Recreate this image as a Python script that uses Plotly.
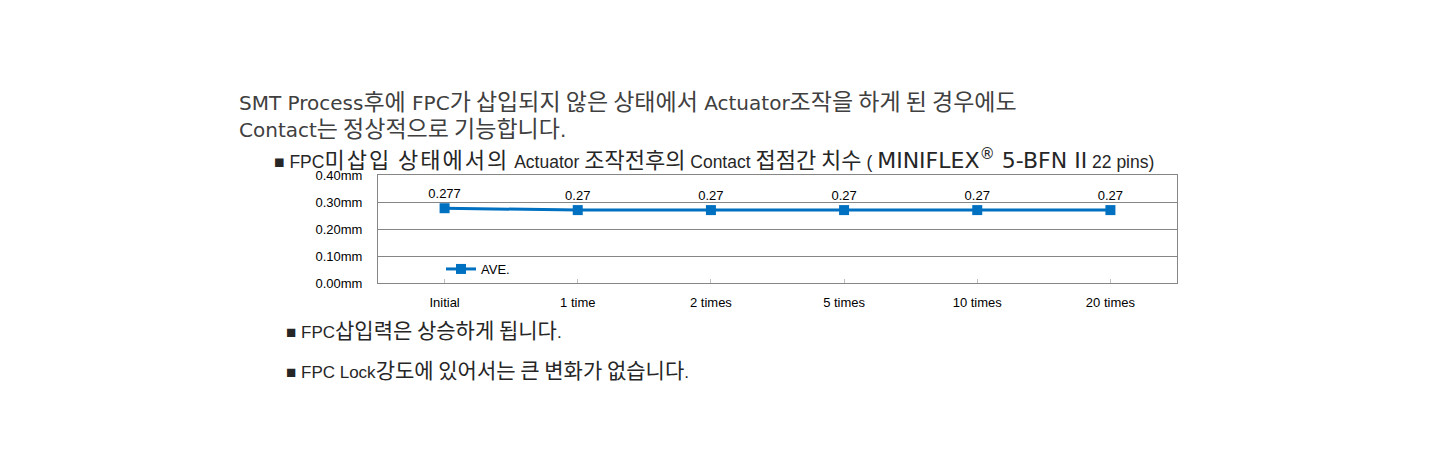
import re
import plotly.graph_objects as go

# chart data
categories = ["Initial", "1 time", "2 times", "5 times", "10 times", "20 times"]
ave_values = [0.277, 0.27, 0.27, 0.27, 0.27, 0.27]
y_ticks = [0.0, 0.1, 0.2, 0.3, 0.4]
y_tick_labels = [f"{v:.2f}mm" for v in y_ticks]

title_lines = [
    "SMT Process후에 FPC가 삽입되지 않은 상태에서 Actuator조작을 하게 된 경우에도",
    "Contact는 정상적으로 기능합니다.",
]
notes = [
    "■ FPC삽입력은 상승하게 됩니다.",
    "■ FPC Lock강도에 있어서는 큰 변화가 없습니다.",
]

# page places the figure at (8, 8); target pixel box of the plot area on screen
OFF = 8
W, H = 1440, 470
L, R, T, B = 378, 1177, 175, 283
KR = "Noto Sans CJK KR"
SANS = "Liberation Sans, Arial, " + KR
WIDE = "DejaVu Sans, Verdana, " + KR


def px(x):
    return (x - L) / (R - L)


def py(y):
    return (B - y) / (B - T)


def kr(s, size, spacing=0):
    # hangul runs get a larger Korean face, the rest keeps the annotation font
    extra = f";letter-spacing:{spacing}px" if spacing else ""
    return re.sub(r"([가-힣][가-힣 ]*[가-힣]|[가-힣])",
                  lambda m: f"<span style='font-family:{KR};font-size:{size}px{extra}'>{m.group(1)}</span>", s)


fig = go.Figure()

fig.add_trace(go.Scatter(
    x=categories, y=ave_values, name="AVE.",
    mode="lines+markers+text",
    line=dict(color="#0070C0", width=3),
    marker=dict(symbol="square", size=10, color="#0070C0"),
    text=[str(v) for v in ave_values],
    textposition="top center",
    textfont=dict(family=SANS, size=13, color="#000000"),
))

annots = []
for i, line in enumerate(title_lines):
    annots.append(dict(text=kr(line, 23), x=px(237), y=py(100 + i * 27), xanchor="left", yanchor="middle",
                       font=dict(family=WIDE, size=20, color="#404040")))

annots.append(dict(
    text=(kr("■ FPC미삽입 상태에서의", 22, 2) + " " + kr("Actuator 조작전후의 Contact 접점간 치수 ( ", 22)
          + "<span style='font-family:DejaVu Sans;font-size:22px'>MINIFLEX<sup>®</sup> 5-BFN II</span>"
          + " 22 pins)"),
    x=px(272), y=py(158), xanchor="left", yanchor="middle",
    font=dict(family=SANS, size=17.5, color="#262626")))

for i, note in enumerate(notes):
    annots.append(dict(text=kr(note, 21), x=px(284), y=py(329 + i * 40), xanchor="left", yanchor="middle",
                       font=dict(family=SANS, size=17, color="#262626")))

for a in annots:
    a.update(xref="paper", yref="paper", showarrow=False)

fig.update_layout(
    width=W, height=H,
    margin=dict(l=L - OFF, r=W - (R - OFF), t=T - OFF, b=H - (B - OFF), pad=0),
    paper_bgcolor="white", plot_bgcolor="white",
    font=dict(family=SANS, size=13, color="#000000"),
    showlegend=True,
    legend=dict(x=px(441), y=py(269), xanchor="left", yanchor="middle",
                bgcolor="rgba(0,0,0,0)", font=dict(family=SANS, size=13, color="#000000"),
                itemwidth=30, tracegroupgap=0),
    annotations=annots,
)

fig.update_xaxes(
    type="category", range=[-0.5, len(categories) - 0.5],
    showline=True, linecolor="#868686", linewidth=1, mirror=True,
    showgrid=False, ticks="inside", ticklen=4, tickcolor="#BFBFBF",
    tickfont=dict(family=SANS, size=13), ticklabelstandoff=7,
)
fig.update_yaxes(
    range=[0, 0.4], tickvals=y_ticks, ticktext=y_tick_labels,
    showline=True, linecolor="#868686", linewidth=1, mirror=True,
    showgrid=True, gridcolor="#868686", gridwidth=1, zeroline=False,
    tickfont=dict(family=SANS, size=13), ticks="", ticklabelstandoff=12,
)

fig.write_html("out.html")
